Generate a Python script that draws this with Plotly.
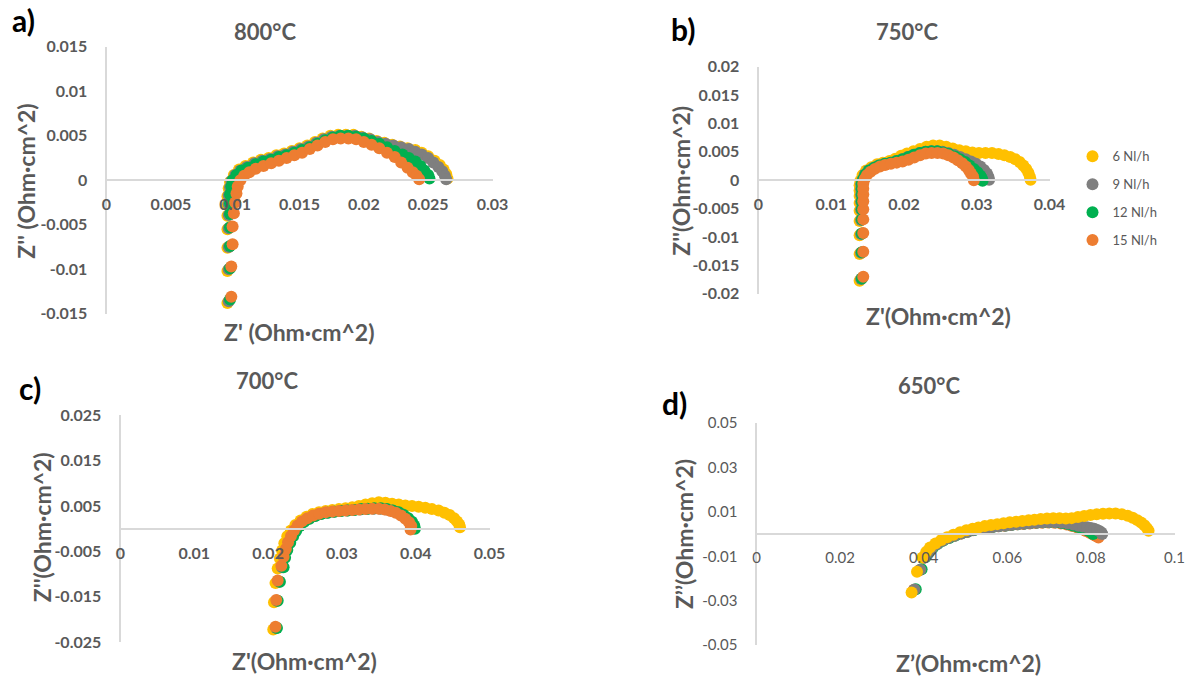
import plotly.graph_objects as go

W, H = 1195, 679

SERIES = ["6 Nl/h", "9 Nl/h", "12 Nl/h", "15 Nl/h"]
COLORS = {"6 Nl/h": "#FFC000", "9 Nl/h": "#7F7F7F", "12 Nl/h": "#00B050", "15 Nl/h": "#ED7D31"}

# ---------------- 800 °C ----------------
X800_6 = [0.0094, 0.0094, 0.0094, 0.0094, 0.0094, 0.0094, 0.0094, 0.0095,
          0.0096, 0.0099, 0.0103, 0.0108, 0.0114, 0.0120, 0.0126, 0.0132, 0.0138, 0.0144, 0.0150,
          0.0156, 0.0162, 0.0168, 0.0174, 0.0180, 0.0186, 0.0192, 0.0198, 0.0204, 0.0210, 0.0216,
          0.0222, 0.0228, 0.0234, 0.0240, 0.0245, 0.0250, 0.0255, 0.0259, 0.0262, 0.0264, 0.0265]
Y800_6 = [-0.0138, -0.0102, -0.0076, -0.0055, -0.0040, -0.0028, -0.0018, -0.0009,
          -0.0002, 0.0006, 0.0012, 0.0016, 0.0020, 0.0023, 0.0025, 0.0028, 0.0030, 0.0033, 0.0036,
          0.0039, 0.0043, 0.0047, 0.0050, 0.0051, 0.0051, 0.0051, 0.0049, 0.0047, 0.0044, 0.0042,
          0.0040, 0.0038, 0.0036, 0.0034, 0.0031, 0.0027, 0.0022, 0.0017, 0.0012, 0.0007, 0.0002]
X800_9 = [0.0095, 0.0095, 0.0095, 0.0095, 0.0095, 0.0095, 0.0095, 0.0096,
          0.0097, 0.0100, 0.0104, 0.0109, 0.0115, 0.0121, 0.0127, 0.0133, 0.0139, 0.0145, 0.0151,
          0.0157, 0.0163, 0.0169, 0.0175, 0.0181, 0.0187, 0.0193, 0.0199, 0.0205, 0.0211, 0.0217,
          0.0223, 0.0229, 0.0235, 0.0240, 0.0245, 0.0250, 0.0254, 0.0258, 0.0261, 0.0263, 0.0264]
Y800_9 = [-0.0136, -0.0100, -0.0075, -0.0054, -0.0039, -0.0027, -0.0017, -0.0008,
          -0.0001, 0.0006, 0.0011, 0.0015, 0.0019, 0.0022, 0.0024, 0.0027, 0.0029, 0.0032, 0.0035,
          0.0038, 0.0042, 0.0046, 0.0049, 0.0050, 0.0050, 0.0050, 0.0048, 0.0046, 0.0043, 0.0041,
          0.0039, 0.0037, 0.0035, 0.0032, 0.0029, 0.0025, 0.0020, 0.0015, 0.0010, 0.0005, 0.0001]
X800_12 = [0.0096, 0.0096, 0.0096, 0.0096, 0.0096, 0.0096, 0.0096, 0.0097,
           0.0098, 0.0101, 0.0105, 0.0110, 0.0116, 0.0122, 0.0128, 0.0134, 0.0140, 0.0146, 0.0152,
           0.0158, 0.0164, 0.0170, 0.0176, 0.0182, 0.0188, 0.0194, 0.0200, 0.0206, 0.0212, 0.0218,
           0.0224, 0.0230, 0.0235, 0.0240, 0.0244, 0.0247, 0.0250, 0.0251]
Y800_12 = [-0.0134, -0.0099, -0.0074, -0.0053, -0.0038, -0.0026, -0.0016, -0.0007,
           0.0000, 0.0006, 0.0011, 0.0014, 0.0018, 0.0021, 0.0023, 0.0026, 0.0028, 0.0031, 0.0034,
           0.0037, 0.0041, 0.0045, 0.0048, 0.0050, 0.0050, 0.0049, 0.0047, 0.0044, 0.0041, 0.0037,
           0.0033, 0.0029, 0.0025, 0.0021, 0.0016, 0.0011, 0.0006, 0.0002]
X800_15 = [0.0097, 0.0097, 0.0098, 0.0098, 0.0099, 0.0100, 0.0101, 0.0102,
           0.0104, 0.0107, 0.0111, 0.0116, 0.0122, 0.0128, 0.0134, 0.0140, 0.0146, 0.0152, 0.0158,
           0.0164, 0.0170, 0.0176, 0.0182, 0.0188, 0.0194, 0.0200, 0.0206, 0.0212, 0.0218, 0.0224,
           0.0229, 0.0234, 0.0238, 0.0241, 0.0243]
Y800_15 = [-0.0131, -0.0097, -0.0072, -0.0052, -0.0037, -0.0025, -0.0015, -0.0007,
           0.0000, 0.0005, 0.0009, 0.0013, 0.0016, 0.0019, 0.0022, 0.0025, 0.0028, 0.0031, 0.0035,
           0.0039, 0.0043, 0.0046, 0.0047, 0.0047, 0.0046, 0.0043, 0.0040, 0.0036, 0.0031, 0.0026,
           0.0020, 0.0014, 0.0009, 0.0005, 0.0001]

# ---------------- 750 °C ----------------
X750_6 = [0.0139, 0.0139, 0.0139, 0.0139, 0.0139, 0.0139, 0.0139, 0.0139, 0.0139,
          0.0140, 0.0143, 0.0148, 0.0155, 0.0163, 0.0171, 0.0180, 0.0188, 0.0196, 0.0204, 0.0213,
          0.0222, 0.0231, 0.0240, 0.0249, 0.0258, 0.0267, 0.0276, 0.0285, 0.0294, 0.0303, 0.0312,
          0.0321, 0.0330, 0.0338, 0.0346, 0.0353, 0.0359, 0.0364, 0.0368, 0.0371, 0.0373, 0.0374]
Y750_6 = [-0.0177, -0.0130, -0.0097, -0.0072, -0.0054, -0.0040, -0.0028, -0.0018, -0.0009,
          -0.0001, 0.0009, 0.0017, 0.0023, 0.0028, 0.0031, 0.0034, 0.0038, 0.0043, 0.0047, 0.0051,
          0.0055, 0.0059, 0.0061, 0.0061, 0.0059, 0.0056, 0.0053, 0.0051, 0.0049, 0.0048, 0.0048,
          0.0048, 0.0046, 0.0044, 0.0041, 0.0037, 0.0032, 0.0026, 0.0020, 0.0013, 0.0006, 0.0001]
X750_9 = [0.0141, 0.0141, 0.0141, 0.0141, 0.0141, 0.0141, 0.0141, 0.0141, 0.0141,
          0.0143, 0.0146, 0.0151, 0.0158, 0.0165, 0.0173, 0.0181, 0.0189, 0.0197, 0.0205, 0.0213,
          0.0221, 0.0229, 0.0237, 0.0245, 0.0253, 0.0261, 0.0269, 0.0277, 0.0285, 0.0292, 0.0299,
          0.0305, 0.0310, 0.0314, 0.0316, 0.0317]
Y750_9 = [-0.0174, -0.0128, -0.0095, -0.0070, -0.0052, -0.0038, -0.0026, -0.0016, -0.0007,
          0.0001, 0.0010, 0.0017, 0.0022, 0.0026, 0.0029, 0.0031, 0.0034, 0.0037, 0.0041, 0.0045,
          0.0048, 0.0050, 0.0051, 0.0051, 0.0050, 0.0048, 0.0045, 0.0041, 0.0037, 0.0033, 0.0029,
          0.0024, 0.0018, 0.0012, 0.0006, 0.0001]
X750_12 = [0.0142, 0.0142, 0.0142, 0.0142, 0.0142, 0.0142, 0.0142, 0.0142, 0.0142,
           0.0144, 0.0147, 0.0152, 0.0159, 0.0166, 0.0174, 0.0182, 0.0190, 0.0198, 0.0206, 0.0214,
           0.0222, 0.0230, 0.0238, 0.0246, 0.0254, 0.0262, 0.0270, 0.0277, 0.0284, 0.0290, 0.0296,
           0.0301, 0.0305, 0.0307, 0.0308]
Y750_12 = [-0.0173, -0.0127, -0.0094, -0.0069, -0.0051, -0.0037, -0.0025, -0.0015, -0.0006,
           0.0002, 0.0010, 0.0017, 0.0022, 0.0026, 0.0029, 0.0031, 0.0034, 0.0037, 0.0041, 0.0045,
           0.0048, 0.0050, 0.0051, 0.0051, 0.0049, 0.0046, 0.0042, 0.0037, 0.0032, 0.0026, 0.0020,
           0.0014, 0.0008, 0.0003, -0.0001]
X750_15 = [0.0144, 0.0144, 0.0144, 0.0144, 0.0144, 0.0144, 0.0144, 0.0144, 0.0144,
           0.0146, 0.0149, 0.0154, 0.0160, 0.0167, 0.0174, 0.0182, 0.0190, 0.0198, 0.0206, 0.0214,
           0.0222, 0.0230, 0.0238, 0.0246, 0.0254, 0.0261, 0.0268, 0.0274, 0.0280, 0.0285, 0.0289,
           0.0292, 0.0295, 0.0296]
Y750_15 = [-0.0170, -0.0126, -0.0093, -0.0069, -0.0051, -0.0037, -0.0025, -0.0015, -0.0006,
           0.0002, 0.0009, 0.0015, 0.0020, 0.0024, 0.0027, 0.0029, 0.0031, 0.0033, 0.0036, 0.0040,
           0.0044, 0.0047, 0.0048, 0.0048, 0.0047, 0.0044, 0.0040, 0.0035, 0.0030, 0.0024, 0.0018,
           0.0012, 0.0006, 0.0000]

# ---------------- 700 °C ----------------
X700_6 = [0.0207, 0.0208, 0.0210, 0.0213, 0.0216, 0.0219, 0.0222, 0.0226, 0.0231, 0.0237,
          0.0244, 0.0252, 0.0260, 0.0269, 0.0278, 0.0287, 0.0296, 0.0305, 0.0314, 0.0323,
          0.0332, 0.0341, 0.0350, 0.0359, 0.0368, 0.0377, 0.0386, 0.0395, 0.0404, 0.0413,
          0.0422, 0.0431, 0.0439, 0.0446, 0.0452, 0.0456, 0.0459, 0.0460]
Y700_6 = [-0.0222, -0.0162, -0.0120, -0.0088, -0.0066, -0.0048, -0.0032, -0.0017, -0.0004, 0.0008,
          0.0018, 0.0026, 0.0032, 0.0036, 0.0039, 0.0041, 0.0043, 0.0045, 0.0047, 0.0050,
          0.0053, 0.0056, 0.0058, 0.0057, 0.0055, 0.0053, 0.0051, 0.0050, 0.0048, 0.0046,
          0.0043, 0.0040, 0.0035, 0.0030, 0.0023, 0.0016, 0.0009, 0.0003]
X700_9 = [0.0211, 0.0212, 0.0215, 0.0219, 0.0222, 0.0225, 0.0229, 0.0233, 0.0237, 0.0242,
          0.0248, 0.0255, 0.0263, 0.0271, 0.0280, 0.0289, 0.0298, 0.0307, 0.0316, 0.0325,
          0.0334, 0.0343, 0.0352, 0.0360, 0.0368, 0.0375, 0.0382, 0.0388, 0.0393, 0.0396, 0.0397]
Y700_9 = [-0.0219, -0.0159, -0.0117, -0.0085, -0.0064, -0.0047, -0.0031, -0.0017, -0.0005, 0.0006,
          0.0015, 0.0022, 0.0028, 0.0032, 0.0035, 0.0037, 0.0039, 0.0040, 0.0041, 0.0042,
          0.0043, 0.0044, 0.0044, 0.0042, 0.0040, 0.0036, 0.0031, 0.0024, 0.0016, 0.0008, 0.0001]
X700_12 = [0.0212, 0.0213, 0.0216, 0.0221, 0.0223, 0.0226, 0.0230, 0.0234, 0.0238, 0.0243,
           0.0249, 0.0256, 0.0264, 0.0272, 0.0281, 0.0290, 0.0299, 0.0308, 0.0317, 0.0326,
           0.0335, 0.0344, 0.0353, 0.0361, 0.0369, 0.0377, 0.0384, 0.0390, 0.0395, 0.0398, 0.0399]
Y700_12 = [-0.0219, -0.0159, -0.0117, -0.0085, -0.0064, -0.0047, -0.0031, -0.0017, -0.0005, 0.0006,
           0.0015, 0.0022, 0.0028, 0.0032, 0.0035, 0.0037, 0.0039, 0.0040, 0.0041, 0.0043,
           0.0044, 0.0045, 0.0045, 0.0043, 0.0040, 0.0036, 0.0030, 0.0023, 0.0015, 0.0007, 0.0000]
X700_15 = [0.0210, 0.0211, 0.0213, 0.0218, 0.0221, 0.0224, 0.0227, 0.0231, 0.0235, 0.0240,
           0.0246, 0.0253, 0.0261, 0.0269, 0.0278, 0.0287, 0.0296, 0.0305, 0.0314, 0.0323,
           0.0332, 0.0341, 0.0350, 0.0358, 0.0366, 0.0373, 0.0380, 0.0386, 0.0391, 0.0394, 0.0393]
Y700_15 = [-0.0216, -0.0157, -0.0114, -0.0082, -0.0062, -0.0045, -0.0030, -0.0016, -0.0004, 0.0007,
           0.0016, 0.0023, 0.0029, 0.0033, 0.0036, 0.0038, 0.0039, 0.0040, 0.0041, 0.0042,
           0.0043, 0.0044, 0.0044, 0.0042, 0.0039, 0.0035, 0.0029, 0.0022, 0.0014, 0.0006, -0.0002]

# ---------------- 650 °C ----------------
X650_6 = [0.0371, 0.0384, 0.0397, 0.0406, 0.0415, 0.0428, 0.0442, 0.0456, 0.0471, 0.0487,
          0.0502, 0.0517, 0.0531, 0.0546, 0.0561, 0.0576, 0.0591, 0.0606, 0.0621, 0.0636,
          0.0651, 0.0665, 0.0680, 0.0695, 0.0710, 0.0725, 0.0740, 0.0754, 0.0769, 0.0784,
          0.0799, 0.0814, 0.0829, 0.0844, 0.0859, 0.0874, 0.0888, 0.0900, 0.0911, 0.0920,
          0.0928, 0.0934, 0.0938]
Y650_6 = [-0.0263, -0.0170, -0.0105, -0.0080, -0.0060, -0.0042, -0.0026, -0.0014, -0.0003, 0.0008,
          0.0017, 0.0024, 0.0030, 0.0036, 0.0041, 0.0045, 0.0049, 0.0053, 0.0056, 0.0059,
          0.0062, 0.0065, 0.0068, 0.0070, 0.0071, 0.0071, 0.0070, 0.0072, 0.0077, 0.0082,
          0.0086, 0.0089, 0.0092, 0.0093, 0.0093, 0.0090, 0.0083, 0.0074, 0.0063, 0.0052,
          0.0040, 0.0027, 0.0015]
X650_9 = [0.0378, 0.0392, 0.0402, 0.0411, 0.0420, 0.0432, 0.0445, 0.0459, 0.0474, 0.0490,
          0.0505, 0.0520, 0.0535, 0.0550, 0.0565, 0.0580, 0.0595, 0.0610, 0.0625, 0.0640,
          0.0655, 0.0670, 0.0685, 0.0700, 0.0715, 0.0730, 0.0745, 0.0758, 0.0770, 0.0781,
          0.0791, 0.0800, 0.0808, 0.0815, 0.0821, 0.0825, 0.0827]
Y650_9 = [-0.0250, -0.0160, -0.0105, -0.0080, -0.0062, -0.0045, -0.0030, -0.0018, -0.0007, 0.0003,
          0.0011, 0.0018, 0.0023, 0.0028, 0.0032, 0.0035, 0.0038, 0.0041, 0.0044, 0.0047,
          0.0049, 0.0051, 0.0053, 0.0054, 0.0054, 0.0052, 0.0048, 0.0043, 0.0038, 0.0034,
          0.0031, 0.0028, 0.0024, 0.0019, 0.0013, 0.0007, 0.0001]
X650_12 = [0.0381, 0.0395, 0.0404, 0.0413, 0.0422, 0.0434, 0.0447, 0.0461, 0.0476, 0.0491,
           0.0506, 0.0521, 0.0536, 0.0551, 0.0566, 0.0581, 0.0596, 0.0611, 0.0626, 0.0641,
           0.0656, 0.0671, 0.0686, 0.0701, 0.0716, 0.0731, 0.0745, 0.0757, 0.0768, 0.0778,
           0.0787, 0.0795, 0.0801, 0.0805]
Y650_12 = [-0.0248, -0.0158, -0.0104, -0.0079, -0.0061, -0.0044, -0.0029, -0.0017, -0.0006, 0.0004,
           0.0012, 0.0019, 0.0024, 0.0029, 0.0033, 0.0036, 0.0039, 0.0042, 0.0045, 0.0048,
           0.0050, 0.0052, 0.0053, 0.0054, 0.0053, 0.0050, 0.0045, 0.0039, 0.0033, 0.0027,
           0.0021, 0.0014, 0.0007, 0.0001]
X650_15 = [0.0376, 0.0390, 0.0400, 0.0409, 0.0418, 0.0430, 0.0443, 0.0457, 0.0472, 0.0488,
           0.0503, 0.0518, 0.0533, 0.0548, 0.0563, 0.0578, 0.0593, 0.0608, 0.0623, 0.0638,
           0.0653, 0.0668, 0.0683, 0.0698, 0.0713, 0.0728, 0.0742, 0.0755, 0.0767, 0.0778,
           0.0788, 0.0797, 0.0805, 0.0812, 0.0818]
Y650_15 = [-0.0252, -0.0163, -0.0107, -0.0082, -0.0063, -0.0046, -0.0031, -0.0019, -0.0008, 0.0002,
           0.0010, 0.0017, 0.0023, 0.0028, 0.0032, 0.0035, 0.0038, 0.0041, 0.0044, 0.0046,
           0.0048, 0.0050, 0.0051, 0.0052, 0.0051, 0.0048, 0.0043, 0.0037, 0.0030, 0.0022,
           0.0014, 0.0006, -0.0002, -0.0009, -0.0015]

# ---------------- axis ticks ----------------
XT_800 = [0, 0.005, 0.01, 0.015, 0.02, 0.025, 0.03]
XL_800 = ["0", "0.005", "0.01", "0.015", "0.02", "0.025", "0.03"]
YT_800 = [-0.015, -0.01, -0.005, 0, 0.005, 0.01, 0.015]
YL_800 = ["-0.015", "-0.01", "-0.005", "0", "0.005", "0.01", "0.015"]

XT_750 = [0, 0.01, 0.02, 0.03, 0.04]
XL_750 = ["0", "0.01", "0.02", "0.03", "0.04"]
YT_750 = [-0.02, -0.015, -0.01, -0.005, 0, 0.005, 0.01, 0.015, 0.02]
YL_750 = ["-0.02", "-0.015", "-0.01", "-0.005", "0", "0.005", "0.01", "0.015", "0.02"]

XT_700 = [0, 0.01, 0.02, 0.03, 0.04, 0.05]
XL_700 = ["0", "0.01", "0.02", "0.03", "0.04", "0.05"]
YT_700 = [-0.025, -0.015, -0.005, 0.005, 0.015, 0.025]
YL_700 = ["-0.025", "-0.015", "-0.005", "0.005", "0.015", "0.025"]

XT_650 = [0, 0.02, 0.04, 0.06, 0.08, 0.1]
XL_650 = ["0", "0.02", "0.04", "0.06", "0.08", "0.1"]
YT_650 = [-0.05, -0.03, -0.01, 0.01, 0.03, 0.05]
YL_650 = ["-0.05", "-0.03", "-0.01", "0.01", "0.03", "0.05"]

# ---------------- layout helpers ----------------
GRAY_TXT = "#595959"
AXIS_LINE = "#D9D9D9"
FONT = "Lato"

# screen pixel -> paper fraction (calibrated against the rendered page)
OX, OY, SW, SH = 3.5, 8, 1174, 663


def fx(px):
    return (px - OX) / SW


def fy(py):
    return 1 - (py - OY) / SH


panels = [
    dict(key="", title="800°C", letter="a)",
         data={"6 Nl/h": (X800_6, Y800_6), "9 Nl/h": (X800_9, Y800_9),
               "12 Nl/h": (X800_12, Y800_12), "15 Nl/h": (X800_15, Y800_15)},
         order=["6 Nl/h", "9 Nl/h", "12 Nl/h", "15 Nl/h"],
         xr=[0, 0.03], yr=[-0.015, 0.015], xt=(XT_800, XL_800), yt=(YT_800, YL_800),
         px=(105, 491), py=(45, 313), zero=179, legend=False,
         xtitle="Z' (Ohm·cm^2)", ytitle="Z'' (Ohm·cm^2)",
         tpos=(263, 30), lpos=(22, 18), xtpos=(298, 331), ytpos=(25, 180), tickw=700),
    dict(key="2", title="750°C", letter="b)",
         data={"6 Nl/h": (X750_6, Y750_6), "9 Nl/h": (X750_9, Y750_9),
               "12 Nl/h": (X750_12, Y750_12), "15 Nl/h": (X750_15, Y750_15)},
         order=["6 Nl/h", "9 Nl/h", "12 Nl/h", "15 Nl/h"],
         xr=[0, 0.04], yr=[-0.02, 0.02], xt=(XT_750, XL_750), yt=(YT_750, YL_750),
         px=(757, 1048), py=(65, 293), zero=179, legend=True,
         xtitle="Z'(Ohm·cm^2)", ytitle="Z''(Ohm·cm^2)",
         tpos=(905, 30), lpos=(681, 27), xtpos=(937, 315), ytpos=(680, 180), tickw=700),
    dict(key="3", title="700°C", letter="c)",
         data={"6 Nl/h": (X700_6, Y700_6), "9 Nl/h": (X700_9, Y700_9),
               "12 Nl/h": (X700_12, Y700_12), "15 Nl/h": (X700_15, Y700_15)},
         order=["6 Nl/h", "9 Nl/h", "12 Nl/h", "15 Nl/h"],
         xr=[0, 0.05], yr=[-0.025, 0.025], xt=(XT_700, XL_700), yt=(YT_700, YL_700),
         px=(119, 488), py=(415, 643), zero=529, legend=False,
         xtitle="Z'(Ohm·cm^2)", ytitle="Z''(Ohm·cm^2)",
         tpos=(265, 380), lpos=(28, 388), xtpos=(303, 662), ytpos=(40, 528), tickw=700),
    dict(key="4", title="650°C", letter="d)",
         data={"6 Nl/h": (X650_6, Y650_6), "9 Nl/h": (X650_9, Y650_9),
               "12 Nl/h": (X650_12, Y650_12), "15 Nl/h": (X650_15, Y650_15)},
         order=["15 Nl/h", "12 Nl/h", "9 Nl/h", "6 Nl/h"],
         xr=[0, 0.1], yr=[-0.05, 0.05], xt=(XT_650, XL_650), yt=(YT_650, YL_650),
         px=(755, 1173), py=(423, 646), zero=534.5, legend=False,
         xtitle="Z’(Ohm·cm^2)", ytitle="Z’’(Ohm·cm^2)",
         tpos=(927, 385), lpos=(673, 403), xtpos=(967, 664), ytpos=(682, 535), tickw=400),
]

fig = go.Figure()
annotations = []
layout_axes = {}

for p in panels:
    k = p["key"]
    for name in p["order"]:
        xs, ys = p["data"][name]
        fig.add_trace(go.Scatter(
            x=xs, y=ys, mode="markers", name=name,
            legendgroup=name, showlegend=p["legend"],
            marker=dict(size=12, color=COLORS[name], line=dict(width=0)),
            xaxis="x" + k, yaxis="y" + k, hoverinfo="skip",
        ))
    tsize = 16 if p["tickw"] == 700 else 15
    tickfont = dict(family=FONT, size=tsize, color=GRAY_TXT, weight=p["tickw"])
    layout_axes["xaxis" + k] = dict(
        domain=[fx(p["px"][0]), fx(p["px"][1])], range=p["xr"],
        anchor="free", position=fy(p["zero"]),
        showline=True, linecolor=AXIS_LINE, linewidth=2,
        showgrid=False, zeroline=False, ticks="",
        tickmode="array", tickvals=p["xt"][0], ticktext=p["xt"][1],
        tickfont=tickfont, ticklabelstandoff=10, fixedrange=True,
    )
    layout_axes["yaxis" + k] = dict(
        domain=[fy(p["py"][1]), fy(p["py"][0])], range=p["yr"],
        anchor="x" + k, showline=True, linecolor=AXIS_LINE, linewidth=2,
        showgrid=False, zeroline=False, ticks="",
        tickmode="array", tickvals=p["yt"][0], ticktext=p["yt"][1],
        tickfont=tickfont, ticklabelstandoff=14, fixedrange=True,
    )
    annotations += [
        dict(text=p["title"], x=fx(p["tpos"][0]), y=fy(p["tpos"][1]),
             font=dict(family=FONT, size=22, color=GRAY_TXT, weight=700)),
        dict(text=p["letter"], x=fx(p["lpos"][0]), y=fy(p["lpos"][1]),
             font=dict(family=FONT, size=30, color="#000000", weight=700)),
        dict(text=p["xtitle"], x=fx(p["xtpos"][0]), y=fy(p["xtpos"][1]),
             font=dict(family=FONT, size=23, color=GRAY_TXT, weight=700)),
        dict(text=p["ytitle"], x=fx(p["ytpos"][0]), y=fy(p["ytpos"][1]), textangle=-90,
             font=dict(family=FONT, size=23, color=GRAY_TXT, weight=700)),
    ]

for a in annotations:
    a.update(xref="paper", yref="paper", xanchor="center", yanchor="middle", showarrow=False)

fig.update_layout(
    width=W, height=H, margin=dict(l=0, r=0, t=0, b=0),
    paper_bgcolor="white", plot_bgcolor="white",
    annotations=annotations,
    legend=dict(x=fx(1071), y=fy(140), xanchor="left", yanchor="top",
                font=dict(family=FONT, size=13, color=GRAY_TXT),
                tracegroupgap=8, bgcolor="rgba(0,0,0,0)", itemwidth=30),
    **layout_axes,
)

fig.write_html("out.html")
